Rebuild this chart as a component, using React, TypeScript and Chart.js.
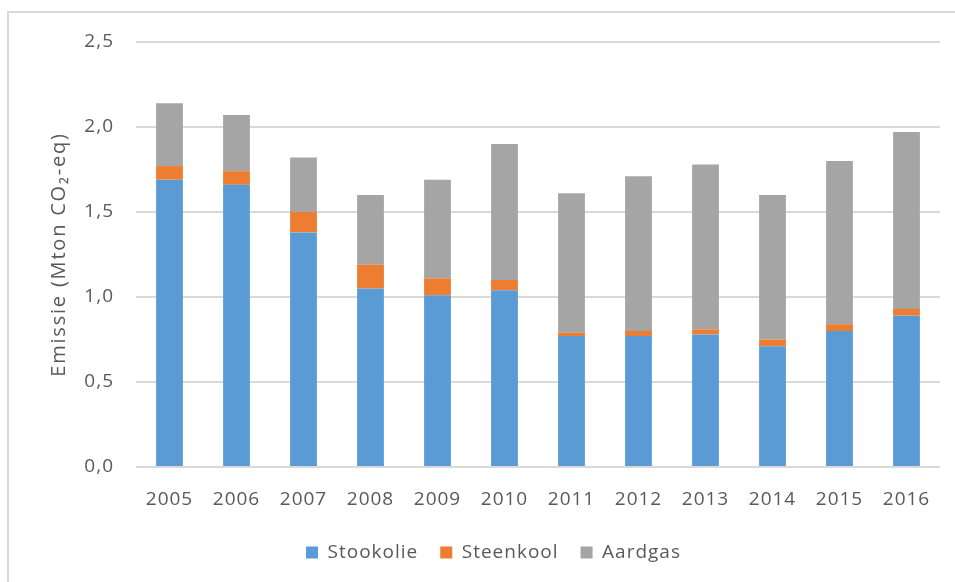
import React, { useEffect, useRef } from "react";
import { Chart, registerables } from "chart.js";

Chart.register(...registerables);

const years = ["2005", "2006", "2007", "2008", "2009", "2010", "2011", "2012", "2013", "2014", "2015", "2016"];
const stookolie = [1.69, 1.66, 1.38, 1.05, 1.01, 1.04, 0.77, 0.77, 0.78, 0.71, 0.80, 0.89];
const steenkool = [0.08, 0.08, 0.12, 0.14, 0.10, 0.06, 0.02, 0.03, 0.03, 0.04, 0.04, 0.04];
const aardgas = [0.37, 0.33, 0.32, 0.41, 0.58, 0.80, 0.82, 0.91, 0.97, 0.85, 0.96, 1.04];
const yTickLabels = ["0,0", "0,5", "1,0", "1,5", "2,0", "2,5"];
const yTitle = "Emissie (Mton CO\u2082-eq)";

const FONT = "'Open Sans', 'Noto Sans', sans-serif";
const TEXT = "#595959";

const spacingPlugin = {
  id: "spacing",
  beforeUpdate(chart: any) {
    chart.ctx.letterSpacing = "1px";
  },
  beforeDraw(chart: any) {
    chart.ctx.letterSpacing = "1px";
  },
  afterDraw(chart: any) {
    const ctx = chart.ctx;
    const area = chart.chartArea;
    ctx.save();
    ctx.letterSpacing = "1.8px";
    ctx.font = `20px ${FONT}`;
    ctx.fillStyle = TEXT;
    ctx.textAlign = "center";
    ctx.textBaseline = "middle";
    ctx.translate(59, (area.top + area.bottom) / 2);
    ctx.rotate(-Math.PI / 2);
    ctx.fillText(yTitle, 0, 0);
    ctx.restore();
  },
};

export default function App() {
  const ref = useRef<HTMLCanvasElement | null>(null);
  useEffect(() => {
    if (!ref.current) return;
    const chart = new Chart(ref.current, {
      type: "bar",
      data: {
        labels: years,
        datasets: [
          { label: "Stookolie", data: stookolie, backgroundColor: "#5B9BD5", borderWidth: 0 },
          { label: "Steenkool", data: steenkool, backgroundColor: "#ED7D31", borderWidth: 0 },
          { label: "Aardgas", data: aardgas, backgroundColor: "#A5A5A5", borderWidth: 0 },
        ],
      },
      plugins: [spacingPlugin],
      options: {
        animation: false,
        responsive: false,
        layout: { padding: { left: 32, right: 0, top: 42, bottom: 10 } },
        datasets: { bar: { barPercentage: 1, categoryPercentage: 0.4 } },
        plugins: {
          tooltip: { enabled: false },
          legend: {
            position: "bottom",
            labels: {
              boxWidth: 12,
              boxHeight: 12,
              padding: 22,
              color: TEXT,
              font: { family: FONT, size: 19 },
            },
          },
        },
        scales: {
          x: {
            stacked: true,
            grid: { display: false, drawTicks: false },
            border: { display: false },
            ticks: { color: TEXT, font: { family: FONT, size: 19 }, padding: 21, maxRotation: 0 },
            afterFit: (s: any) => { s.height = 54; },
          },
          y: {
            stacked: true,
            min: 0,
            max: 2.5,
            grid: { color: "#d9d9d9", lineWidth: 2, drawTicks: false },
            border: { display: false },
            ticks: {
              stepSize: 0.5,
              padding: 22,
              color: TEXT,
              font: { family: FONT, size: 19 },
              callback: (_v: any, i: number) => yTickLabels[i],
            },
            title: { display: false },
            afterFit: (s: any) => { s.width = 104; },
          },
          y2: {
            position: "right",
            display: true,
            grid: { display: false, drawTicks: false },
            border: { display: false },
            ticks: { display: false },
            afterFit: (s: any) => { s.width = 15; },
          },
        },
      },
    });
    return () => chart.destroy();
  }, []);
  return (
    <div style={{ position: "fixed", left: 0, top: 0, width: 955, height: 582, background: "#fff", overflow: "hidden" }}>
      <div
        style={{
          position: "absolute",
          left: 7,
          top: 11,
          width: 960,
          height: 590,
          borderTop: "2px solid #d9d9d9",
          borderLeft: "2px solid #d9d9d9",
          boxSizing: "border-box",
        }}
      />
      <canvas ref={ref} width={955} height={582} style={{ position: "absolute", left: 0, top: 0, width: 955, height: 582 }} />
    </div>
  );
}
